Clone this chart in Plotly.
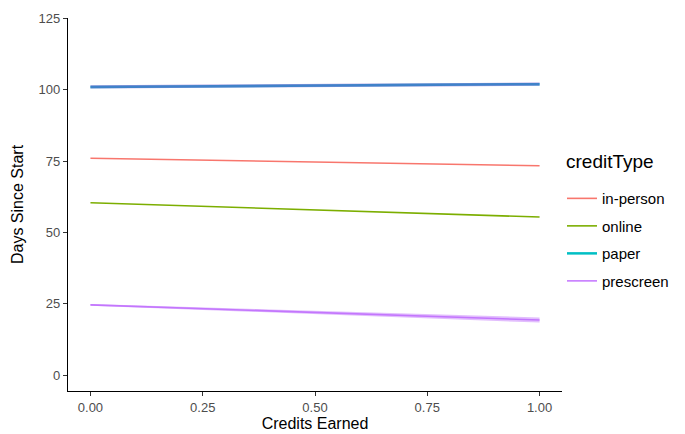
import plotly.graph_objects as go

# Fitted trend of days since start versus credits earned, by credit type
credits = [0.0, 1.0]
credit_types = ["in-person", "online", "paper", "prescreen"]
days_in_person = [76.0, 73.4]
days_online = [60.4, 55.4]
days_paper = [101.0, 102.0]
days_prescreen = [24.6, 19.3]

# Confidence bands around the fits
paper_low = [100.5, 101.4]
paper_high = [101.6, 102.6]
prescreen_low = [24.3, 18.4]
prescreen_high = [24.9, 20.2]

colors = {
    "in-person": "#F8766D",
    "online": "#7CAE00",
    "paper": "#00BFC4",
    "prescreen": "#C77CFF",
}
values = {
    "in-person": days_in_person,
    "online": days_online,
    "paper": days_paper,
    "prescreen": days_prescreen,
}

fig = go.Figure()

for name in credit_types:
    fig.add_trace(go.Scatter(
        x=credits, y=values[name], mode="lines", name=name, legendgroup=name,
        line=dict(color=colors[name], width=1.6 if name != "paper" else 2.5),
    ))

# Bands drawn over the lines
def band(lo, hi, fill):
    fig.add_trace(go.Scatter(x=credits, y=lo, mode="lines", line=dict(width=0),
                             showlegend=False, hoverinfo="skip"))
    fig.add_trace(go.Scatter(x=credits, y=hi, mode="lines", line=dict(width=0),
                             fill="tonexty", fillcolor=fill,
                             showlegend=False, hoverinfo="skip"))

band(paper_low, paper_high, "rgba(106,90,205,0.6)")
band(prescreen_low, prescreen_high, "rgba(190,110,250,0.45)")

font_family = "Liberation Sans, Arial, sans-serif"
tick_font = dict(family=font_family, size=13, color="#4D4D4D")
title_font = dict(family=font_family, size=16, color="black")

fig.update_layout(
    width=685, height=434,
    margin=dict(l=68, r=123, t=18, b=43, autoexpand=False),
    paper_bgcolor="white", plot_bgcolor="white",
    font=dict(family=font_family),
    xaxis=dict(
        range=[-0.05, 1.05], tickvals=[0, 0.25, 0.5, 0.75, 1.0],
        ticktext=["0.00", "0.25", "0.50", "0.75", "1.00"],
        showgrid=False, zeroline=False, automargin=False,
        showline=True, linecolor="black", linewidth=1.2,
        ticks="outside", ticklen=4, tickcolor="#333333", tickwidth=1,
        tickfont=tick_font,
        title=dict(text="Credits Earned", font=title_font, standoff=2),
    ),
    yaxis=dict(
        range=[-5.6, 125.2], tickvals=[0, 25, 50, 75, 100, 125],
        showgrid=False, zeroline=False, automargin=False,
        showline=True, linecolor="black", linewidth=1.2,
        ticks="outside", ticklen=4, tickcolor="#333333", tickwidth=1,
        tickfont=tick_font,
        title=dict(text="Days Since Start", font=title_font, standoff=10),
    ),
    legend=dict(
        x=1.0, xanchor="left", y=0.56, yanchor="top",
        traceorder="grouped",
        font=dict(family=font_family, size=15, color="black"),
        tracegroupgap=5, itemwidth=30,
    ),
    annotations=[dict(
        text="creditType", xref="paper", yref="paper", x=1.005, y=0.614,
        xanchor="left", yanchor="middle", showarrow=False,
        font=dict(family=font_family, size=19, color="black"),
    )],
)

fig.write_html("out.html")
